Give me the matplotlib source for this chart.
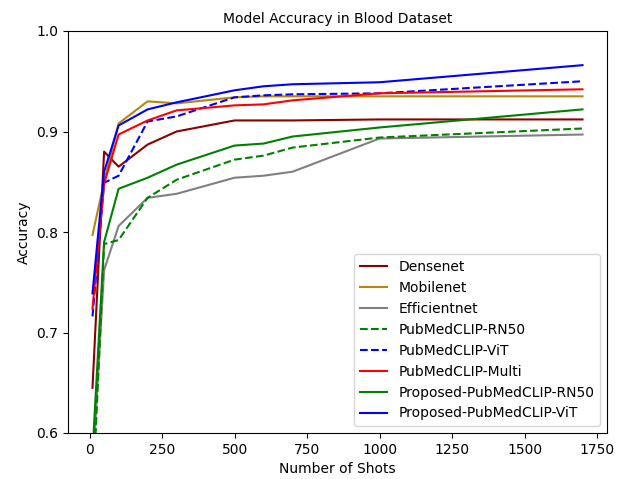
import matplotlib
matplotlib.use("Agg")
import matplotlib.pyplot as plt

shots = [10, 50, 100, 200, 300, 500, 600, 700, 1000, 1700]

densenet = [0.645, 0.880, 0.865, 0.887, 0.900, 0.911, 0.911, 0.911, 0.912, 0.912]
mobilenet = [0.797, 0.850, 0.908, 0.930, 0.928, 0.934, 0.935, 0.935, 0.935, 0.935]
efficientnet = [0.560, 0.762, 0.806, 0.834, 0.838, 0.854, 0.856, 0.860, 0.893, 0.897]
pubmed_rn50 = [0.530, 0.788, 0.792, 0.834, 0.852, 0.872, 0.876, 0.884, 0.894, 0.903]
pubmed_vit = [0.716, 0.849, 0.856, 0.910, 0.915, 0.934, 0.936, 0.937, 0.938, 0.950]
pubmed_multi = [0.724, 0.848, 0.897, 0.911, 0.921, 0.926, 0.927, 0.931, 0.938, 0.942]
prop_rn50 = [0.580, 0.790, 0.843, 0.854, 0.867, 0.886, 0.888, 0.895, 0.904, 0.922]
prop_vit = [0.739, 0.860, 0.906, 0.922, 0.929, 0.941, 0.945, 0.947, 0.949, 0.966]

fig = plt.figure(figsize=(6.18, 4.79), dpi=100)
ax = fig.add_axes([68/618, 1-433/479, (607-68)/618, (433-31)/479])

ax.plot(shots, densenet, color='darkred', label='Densenet')
ax.plot(shots, mobilenet, color='darkgoldenrod', label='Mobilenet')
ax.plot(shots, efficientnet, color='gray', label='Efficientnet')
ax.plot(shots, pubmed_rn50, color='green', linestyle='--', label='PubMedCLIP-RN50')
ax.plot(shots, pubmed_vit, color='blue', linestyle='--', label='PubMedCLIP-ViT')
ax.plot(shots, pubmed_multi, color='red', label='PubMedCLIP-Multi')
ax.plot(shots, prop_rn50, color='green', label='Proposed-PubMedCLIP-RN50')
ax.plot(shots, prop_vit, color='blue', label='Proposed-PubMedCLIP-ViT')

ax.set_ylim(0.6, 1.0)
ax.set_xticks([0, 250, 500, 750, 1000, 1250, 1500, 1750])
ax.set_yticks([0.6, 0.7, 0.8, 0.9, 1.0])
ax.set_title('Model Accuracy in Blood Dataset', fontsize=10)
ax.set_xlabel('Number of Shots')
ax.set_ylabel('Accuracy')
ax.legend(loc='lower right')

fig.savefig('out.png', dpi=100)
